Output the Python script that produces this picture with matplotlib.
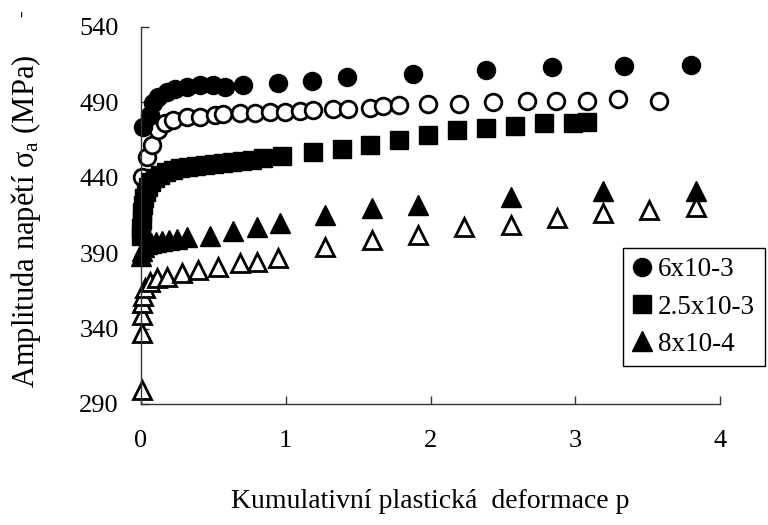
import numpy as np
from matplotlib import pyplot as plt

plt.rcParams['font.family'] = ['Liberation Serif', 'DejaVu Serif']
plt.rcParams['mathtext.fontset'] = 'custom'
plt.rcParams['mathtext.rm'] = 'Liberation Serif'
plt.rcParams['mathtext.it'] = 'Liberation Serif:italic'

"DATA"
# 6x10-3, filled circles
p_c6 = [0.014, 0.062, 0.083, 0.117, 0.180, 0.235, 0.318, 0.408, 0.498, 0.580,
        0.705, 0.946, 1.181, 1.423, 1.879, 2.383, 2.839, 3.336, 3.80]
s_c6 = [473.8, 481.7, 489.7, 493.6, 497.0, 498.9, 500.3, 501.6, 501.6, 500.3,
        501.6, 502.9, 504.2, 506.9, 508.9, 511.5, 513.5, 514.2, 514.8]

# open circles
p_c6o = [0.007, 0.041, 0.076, 0.117, 0.166, 0.221, 0.318, 0.408, 0.511, 0.566,
         0.684, 0.788, 0.891, 0.995, 1.098, 1.188, 1.326, 1.430, 1.582, 1.672,
         1.782, 1.983, 2.197, 2.432, 2.667, 2.867, 3.081, 3.295, 3.579]
s_c6o = [440.7, 453.9, 461.9, 471.8, 476.4, 478.4, 480.4, 480.4, 481.7, 482.4,
         483.0, 483.0, 483.7, 483.7, 484.4, 485.0, 485.7, 485.7, 486.4, 487.7,
         488.3, 489.0, 489.0, 490.3, 491.0, 491.0, 491.0, 492.3, 491.0]

# 2.5x10-3, filled squares
p_c25 = [0.000, 0.000, 0.007, 0.007, 0.014, 0.021, 0.035, 0.048, 0.069, 0.097,
         0.131, 0.173, 0.221, 0.269, 0.325, 0.380, 0.442, 0.504, 0.566, 0.629,
         0.698, 0.767, 0.843, 0.974, 1.188, 1.389, 1.582, 1.782, 1.983, 2.183,
         2.383, 2.584, 2.784, 2.984, 3.081]
s_c25 = [401.6, 406.9, 412.2, 417.5, 422.1, 426.8, 430.7, 434.0, 437.3, 440.0,
         442.0, 444.0, 445.3, 446.6, 447.3, 447.9, 448.6, 449.3, 449.9, 450.6,
         451.3, 451.9, 453.2, 454.6, 457.2, 459.2, 461.9, 465.2, 468.5, 471.8,
         473.1, 474.4, 476.4, 476.4, 477.1]

# 8x10-4, filled triangles
p_c8 = [0.000, 0.007, 0.021, 0.041, 0.069, 0.104, 0.145, 0.193, 0.249, 0.318,
        0.477, 0.636, 0.801, 0.960, 1.271, 1.596, 1.914, 2.556, 3.192, 3.834]
s_c8 = [388.3, 391.6, 394.3, 396.3, 397.0, 397.6, 398.3, 398.9, 399.6, 400.9,
        401.6, 404.9, 407.6, 410.2, 415.5, 420.2, 422.1, 427.4, 431.4, 431.4]

# open triangles
p_c8o = [0.007, 0.007, 0.007, 0.007, 0.014, 0.028, 0.062, 0.111, 0.180, 0.283,
         0.394, 0.532, 0.684, 0.801, 0.946, 1.271, 1.596, 1.914, 2.231, 2.556,
         2.874, 3.192, 3.509, 3.834]
s_c8o = [299.6, 337.3, 349.3, 357.2, 361.8, 367.2, 371.1, 373.8, 374.4, 377.1,
         379.1, 381.1, 383.7, 384.4, 387.0, 394.3, 398.9, 402.3, 407.6, 408.9,
         413.5, 416.8, 418.8, 420.8]

y_ticks = [290, 340, 390, 440, 490, 540]
x_ticks = [0, 1, 2, 3, 4]

"MAKE PLOT"
fig = plt.figure(figsize=(7.68, 5.25), dpi=100)
ax = fig.add_axes([0.1836, 0.2305, 0.7539, 0.7181])

open_kw = dict(ls='none', mfc='white', mec='k', mew=2.0, clip_on=False)
fill_kw = dict(ls='none', color='k', clip_on=False)

ax.plot(p_c6o, s_c6o, marker='o', ms=12, **open_kw)
ax.plot(p_c8o, s_c8o, marker='^', ms=13, **open_kw)
ax.plot(p_c25, s_c25, marker='s', ms=13, label='2.5x10-3', **fill_kw)
ax.plot(p_c8, s_c8, marker='^', ms=14, label='8x10-4', **fill_kw)
ax.plot(p_c6, s_c6, marker='o', ms=13, label='6x10-3', **fill_kw)

ax.set_xlim(0, 4)
ax.set_ylim(290, 540)
ax.set_xticks(x_ticks)
ax.set_yticks(y_ticks)
ax.spines['top'].set_visible(False)
ax.spines['right'].set_visible(False)
for s in ('left', 'bottom'):
    ax.spines[s].set_color('#333333')
    ax.spines[s].set_linewidth(1.0)
ax.tick_params(axis='y', direction='in', length=6, width=1, color='#333333',
               pad=16, labelsize=19)
ax.tick_params(axis='x', direction='in', length=6, width=1, color='#333333',
               pad=19, labelsize=19)

handles, labels = ax.get_legend_handles_labels()
order = [2, 0, 1]
leg = ax.legend([handles[i] for i in order], [labels[i] for i in order],
                loc='upper left', bbox_to_anchor=(623 / 768, 1 - 248 / 525),
                bbox_transform=fig.transFigure, borderaxespad=0,
                fontsize=19.5, handlelength=0.7, handletextpad=0.25,
                labelspacing=0.45, borderpad=0.35, fancybox=False,
                framealpha=1, edgecolor='k')
leg.get_frame().set_linewidth(1.0)

"ADD TEXT"
fig.text(0.56, 1 - 502 / 525, 'Kumulativní plastická  deformace p',
         ha='center', va='center', fontsize=20)
fig.text(26 / 768, 1 - 221 / 525, r'Amplituda napětí σ$_\mathrm{a}$ (MPa)',
         ha='center', va='center', rotation=90, fontsize=22)
fig.text(23 / 768, 1 - 14 / 525, '-', ha='center', va='center',
         rotation=90, fontsize=14)

fig.savefig('out.png', dpi=100)
